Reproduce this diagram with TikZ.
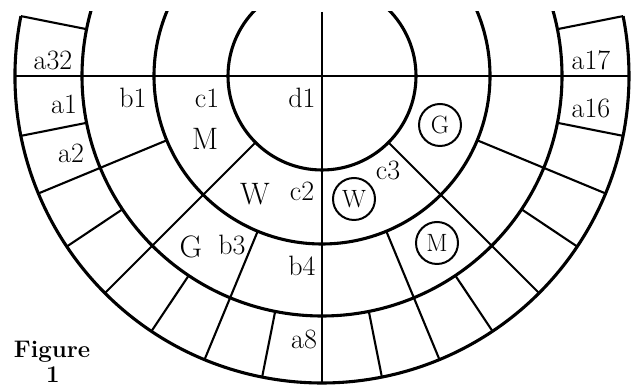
\documentclass[tikz,border=0pt]{standalone}
\usetikzlibrary{calc}
\begin{document}
\begin{tikzpicture}[x=1pt,y=1pt,
  ring/.style={line width=3.1pt},
  spoke/.style={line width=2.1pt},
  axis/.style={line width=1.6pt},
  lab/.style={font=\fontsize{28}{32}\selectfont, inner sep=0pt},
  big/.style={font=\fontsize{31}{34}\selectfont, inner sep=0pt},
  circled/.style={circle, draw, line width=2pt, minimum size=42pt, inner sep=0pt, font=\fontsize{25}{28}\selectfont},
  figlab/.style={font=\fontsize{24}{26}\selectfont\bfseries, inner sep=0pt, anchor=base}]
\useasboundingbox (0,0) rectangle (632,387);
\coordinate (O) at (322,311);
\begin{scope}[shift={(O)}]
  \begin{scope}
    \clip (-400pt,-400pt) rectangle (400pt,64pt);
    \draw[ring] (0,0) circle (240pt);
    \draw[ring] (0,0) circle (168pt);
    \draw[ring] (0,0) circle (94pt);
  \end{scope}
  \draw[ring] (168.75:307pt) arc (168.75:371.25:307pt);
  \foreach \a in {191.25,213.75,236.25,258.75,281.25,303.75,326.25,348.75,168.75,11.25}
    \draw[spoke] (\a:240pt) -- (\a:307pt);
  \foreach \a in {202.5,247.5,292.5,337.5}
    \draw[spoke] (\a:168pt) -- (\a:307pt);
  \foreach \a in {225,315}
    \draw[spoke] (\a:94pt) -- (\a:307pt);
  \draw[axis] (180:307pt) -- (0:307pt);
  \draw[axis] (0pt,64pt) -- (270:307pt);
\end{scope}
\node[lab] (a32) at (53,327) {a32};
\node[lab] (a1) at (64,283) {a1};
\node[lab] (a2) at (71,234) {a2};
\node[lab] (b1) at (133,289) {b1};
\node[lab] (c1) at (207,289) {c1};
\node[lab] (d1) at (302,289) {d1};
\node[big] (M1) at (205,248) {M};
\node[big] (W1) at (255,193) {W};
\node[lab] (c2) at (302,196) {c2};
\node[big] (G1) at (191,140) {G};
\node[lab] (b3) at (232,142) {b3};
\node[lab] (b4) at (302,121) {b4};
\node[lab] (a8) at (304,48) {a8};
\node[lab] (a17) at (591,327) {a17};
\node[lab] (a16) at (591,279) {a16};
\node[lab] (c3) at (388,217) {c3};
\node[circled] (G2) at (440,262) {G};
\node[circled] (W2) at (354,188) {W};
\node[circled] (M2) at (437,144) {M};
\node[figlab] (fig) at (52,29) {Figure};
\node[figlab] (fignum) at (53,4.5) {1};
\end{tikzpicture}
\end{document}
